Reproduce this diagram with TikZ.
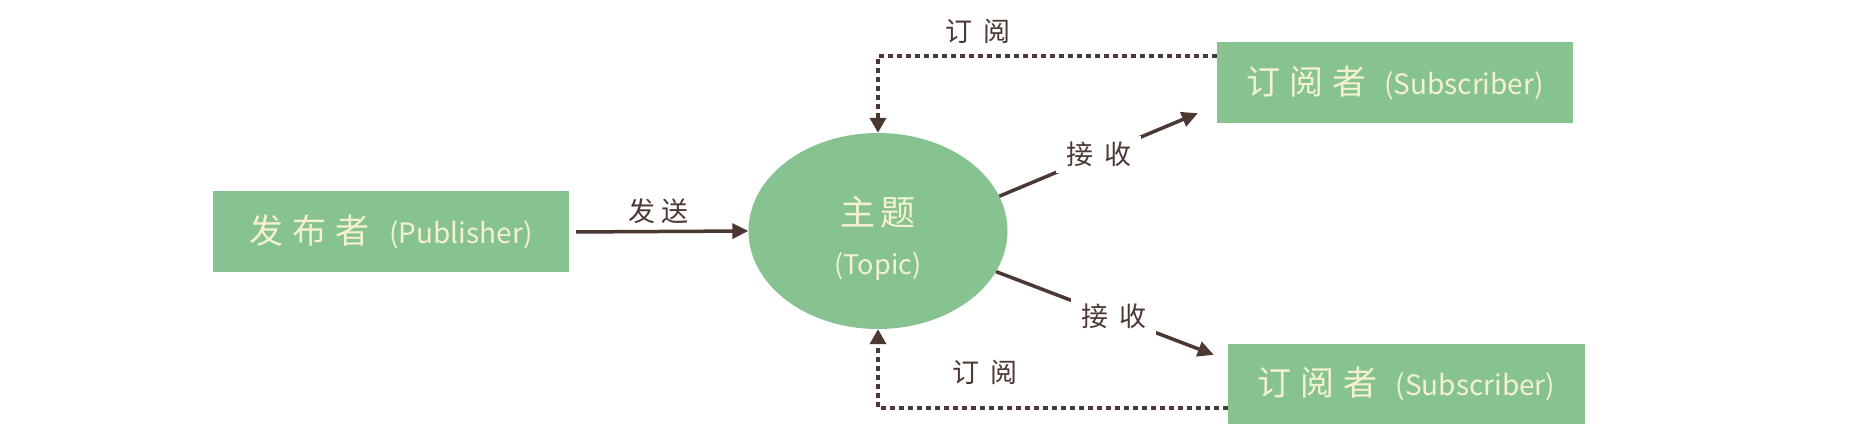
\documentclass[tikz,border=0pt]{standalone}
\usepackage{fontspec}
\setmainfont{Noto Sans CJK SC}
\usetikzlibrary{arrows.meta,shapes.geometric,calc}
\definecolor{boxgreen}{HTML}{86C390}
\definecolor{cream}{HTML}{F4F2CC}
\definecolor{ink}{HTML}{4B3832}
\newcommand{\cjkgap}{\hspace{9pt}}
\newcommand{\lblgap}{\hspace{11pt}}
\begin{document}
\begin{tikzpicture}[x=1pt,y=-1pt,
 boxnode/.style={rectangle, fill=boxgreen, text=cream, minimum width=356pt, minimum height=81pt, inner sep=0pt},
 topicnode/.style={ellipse, fill=boxgreen, text=cream, minimum width=259pt, minimum height=196pt, inner sep=0pt, align=center},
 arr/.style={draw=ink, line width=3.5pt, -{Triangle[length=16pt,width=15pt]}},
 dasharr/.style={draw=ink, line width=3.5pt, dash pattern=on 5pt off 4pt, -{Triangle[length=15pt,width=16pt]}},
 lbl/.style={text=ink, font=\fontsize{27pt}{30pt}\selectfont, inner sep=0pt},
 cut/.style={fill=white, inner xsep=10pt, inner ysep=6pt}
]
\useasboundingbox[fill=white] (0,0) rectangle (1873,446);

\node[boxnode] (pub) at (391,232) {\fontsize{34pt}{36pt}\selectfont 发\cjkgap 布\cjkgap 者\hspace{20pt}{\fontsize{28pt}{30pt}\selectfont (Publisher)}\hspace{12pt}};
\node[boxnode] (sub1) at (1395,82.5) {\fontsize{34pt}{36pt}\selectfont 订\cjkgap 阅\cjkgap 者\hspace{18pt}{\fontsize{28pt}{30pt}\selectfont (Subscriber)}\hspace{30pt}};
\node[boxnode, minimum width=357pt, minimum height=80pt] (sub2) at (1406.5,384) {\fontsize{34pt}{36pt}\selectfont 订\cjkgap 阅\cjkgap 者\hspace{18pt}{\fontsize{28pt}{30pt}\selectfont (Subscriber)}\hspace{30pt}};
\node[topicnode, font=\fontsize{27pt}{49pt}\selectfont] (topic) at (878,231) {{\fontsize{35pt}{49pt}\selectfont \rule{0pt}{44pt}主\hspace{6pt}题}\\(Topic)};

% publish
\draw[arr, shorten <=7pt] (pub.east) -- node[lbl, midway, above=6pt] (send) {发\hspace{6pt}送} (topic.west);

% receive
\draw[arr] (topic.16) -- node[lbl, cut, midway] (recv1) {接\lblgap 收} ($(sub1.south west)+(-19,-10)$);
\draw[arr] (topic.-19) -- node[lbl, cut, pos=0.54] (recv2) {接\lblgap 收} ($(sub2.north west)+(-14,11)$);

% subscribe
\coordinate (c1) at ($(sub1.north west)+(0,14)$);
\coordinate (c2) at ($(sub2.south west)+(0,-16)$);
\draw[dasharr] (c1) -| (topic.north);
\draw[dasharr] (c2) -| (topic.south);
\node[lbl] (sublbl1) at (978,31) {订\lblgap 阅};
\node[lbl] (sublbl2) at (985,372) {订\lblgap 阅};
\end{tikzpicture}
\end{document}
